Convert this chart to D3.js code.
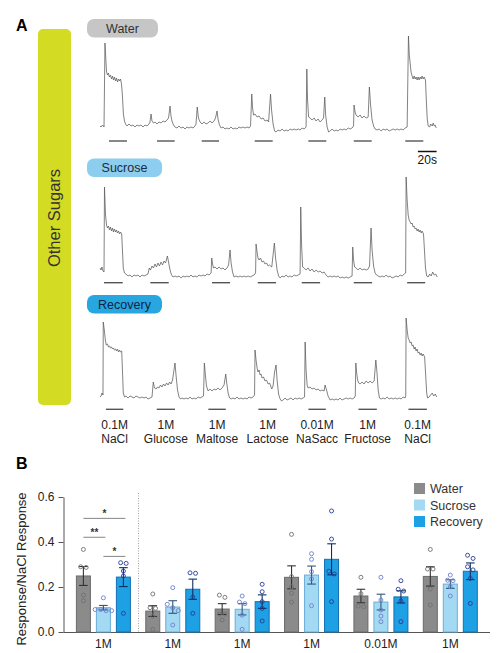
<!DOCTYPE html>
<html><head><meta charset="utf-8">
<script src="https://cdn.jsdelivr.net/npm/d3@7"></script>
<style>body{margin:0;background:#fff}svg{display:block;font-family:"Liberation Sans",Arial,Helvetica,sans-serif}</style>
</head><body><svg id="c" width="500" height="653"></svg>
<script>
// ---------- Panel A data: calcium traces, [time (s), response (a.u.)] ----------
const waterTrace = [
[0,1],[1.1,0],[2.7,2],[4.3,0],[5.3,84],[7,55],[8,52],[9,54],[10,50],[11.2,52],[12.3,48],[13.4,51],[14.4,47],[15.5,50],[16.6,46],[17.6,49],[18.7,45],[19.8,48],[20.9,46],[21.9,48],[23,43],[24,31],[25,13],[26.2,6],[27.3,3],
[28.9,1],[31,3],[33.2,1],[35.3,2],[37.4,0],[39.6,2],[41.7,1],[43.9,2],[46,0],[48.1,2],[50.3,1],[52.4,3],[53.5,5],
[54.6,13],[55.6,6],[57.2,4],[58.8,5],[61,3],[63.1,5],[65.3,4],[67.4,6],[69.5,5],[71.7,7],[73.3,9],[74.9,21],[75.9,11],[77,6],[78.6,2],[80.2,0],
[82.4,-1],[84.5,1],[86.7,-1],[88.8,0],[90.9,-2],[93,0],[95.2,-1],[97.3,0],[99.5,-1],[101.6,1],[102.7,3],
[104,20],[105.3,9],[107,5],[109.1,3],[111.3,5],[113.4,3],[115.6,4],[117.7,6],[119.8,4],[122,6],[123.5,9],[125.2,16],[126.2,8],[127.8,2],[129.5,-1],
[131.6,0],[133.7,-2],[135.8,-1],[138,-2],[140.1,0],[142.3,-2],[144.4,-1],[146.5,-2],[148.7,0],[150.8,-1],[153,0],[155.1,-1],[157.2,0],[159.4,-1],[161,1],
[162.3,33],[163.2,19],[164.2,12],[165.8,13],[168,10],[170.1,11],[172.3,8],[174.4,9],[176.5,6],[178.7,7],[180.3,5],[182.4,33],[183.5,17],[185.1,3],[186.7,-4],[188.3,-5],
[190.4,-3],[192.6,-4],[194.7,-2],[196.9,-4],[199,-3],[201.2,-4],[203.3,-2],[205.4,-3],[207.6,-2],[209.7,-3],[211.9,-2],[214,-3],[216.1,-1],[218.3,-2],[220.4,0],
[221.2,58],[222,27],[223.1,10],[224.7,9],[226.8,7],[229,9],[231.1,6],[233.3,8],[235.4,5],[237.5,7],[239.1,9],[240.4,30],[241.3,12],[242.9,0],[244.5,-5],
[246.1,-4],[248.2,-2],[250.4,-4],[252.5,-3],[254.7,-4],[256.8,-2],[258.9,-3],[261.1,-2],[263.2,-3],[265.4,-1],[267.5,-2],[269.6,-1],[271.2,1],
[271.7,22],[272.8,15],[273.9,12],[276,10],[278.2,12],[280.3,9],[282.4,11],[284.6,9],[286.8,10],[288.1,40],[289.4,22],[291,7],[292.6,1],[294.2,-2],
[296.4,-3],[298.5,-2],[300.7,-4],[302.8,-2],[304.9,-3],[307.1,-2],[309.2,-4],[311.4,-3],[313.5,-2],[315.6,-3],[317.8,-2],[319.9,-3],[322.1,-2],[324.2,-3],[326.3,-1],[328.5,0],
[329.9,91],[330.8,72],[331.7,64],[332.7,55],[333.8,51],[334.9,48],[336,51],[337,48],[338.1,50],[339.2,47],[340.2,50],[341.3,47],[342.4,50],[343.5,48],[344.5,51],[345.6,48],[346.7,50],[348.1,47],[349,27],[349.9,9],[351,1],[352.6,0],[353.7,3],[355.3,1],[356.4,4],[357.4,1],[358.5,2],[359.6,-1]
];
const sucroseTrace = [
[0,8],[1.1,6],[2.1,9],[3.2,5],[4.3,4],[4.8,89],[5.9,61],[7,51],[8,48],[9.1,50],[10.2,46],[11.2,49],[12.3,45],[13.4,48],[14.4,44],[15.5,47],[16.6,44],[17.6,46],[18.7,43],[19.8,45],[20.9,42],[21.9,44],[23.2,42],[24,26],[24.9,8],[26.2,3],
[27.8,2],[30,0],[32.1,1],[34.2,-1],[36.4,1],[38.5,0],[40.7,1],[42.8,-1],[44.9,1],[47.1,0],[49.2,1],[51.3,2],
[52.7,8],[54,6],[55.6,10],[57.2,8],[58.8,12],[60.4,9],[62,13],[63.6,10],[65.3,14],[66.9,11],[68.5,15],[70.1,13],[72.1,20],[73.3,14],[74.9,6],[76.5,1],[78.1,-1],
[80.2,0],[82.4,-1],[84.5,0],[86.7,-2],[88.8,0],[90.9,-1],[93,0],[95.2,-1],[97.3,1],[99.5,-1],[101.6,0],[103.8,-1],[105.9,1],[108.1,0],[110.2,1],[112.3,0],[114.5,2],[116.6,1],[118.8,3],
[119.5,18],[120.4,12],[121.4,8],[123,9],[125.2,7],[127.3,9],[129.5,7],[131.6,8],[133.7,6],[135.8,8],[137.5,11],[139.1,26],[140.1,14],[141.7,4],[143.4,-1],
[145.5,0],[147.7,-1],[149.8,0],[151.9,-1],[154.1,0],[156.2,-1],[158.4,0],[160.5,-1],[162.6,0],[164.8,1],[166.4,3],
[166.9,32],[168,24],[169,18],[170.1,16],[171.7,18],[173.3,14],[174.9,15],[176.5,12],[178.1,13],[179.8,10],[181.4,11],[183.7,9],[186.5,33],[187.8,18],[189.4,6],[191,0],[192.6,-2],
[194.7,0],[196.9,-1],[199,1],[201.2,-1],[203.3,0],[205.4,-1],[207.6,1],[209.7,0],[211.9,1],[214,2],
[214.7,69],[215.6,31],[216.7,9],[218.3,8],[220.4,6],[222.6,8],[224.7,5],[226.8,7],[229,4],[231.1,6],[233.3,4],[235.4,5],[237.5,3],[239.7,4],[241.8,1],[244,-1],
[246.1,0],[248.2,-1],[250.4,0],[252.5,-1],[254.7,0],[256.8,-2],[258.9,-1],[261.1,-2],[263.2,-1],[265.4,-2],[267.5,-1],[269.6,0],
[270.3,29],[271.2,16],[272.3,9],[273.9,8],[276,6],[278.2,8],[280.3,6],[282.4,7],[284.6,6],[286.8,7],[288.3,10],[289.9,48],[291,26],[292.6,10],[294.2,3],[295.8,1],
[297.5,0],[299.6,-1],[301.7,0],[303.9,-1],[306,1],[308.2,-1],[310.3,0],[312.4,-2],[314.6,-1],[316.7,0],[318.9,-1],[321,1],[323.1,0],[325.3,2],[326.9,3],
[327.4,99],[328.5,76],[329.6,61],[330.6,56],[331.7,54],[332.8,52],[333.8,53],[334.9,49],[336,50],[337,47],[338.1,48],[339.2,45],[340.2,47],[341.3,44],[342.4,46],[343.5,43],[344.5,45],[346,42],[347,26],[348.1,8],[349.4,0],[351,-1],[352.6,2],[354.2,0],[355.8,4],[357.4,1],[359,2],[360.6,-1]
];
const recoveryTrace = [
[0,1],[1.1,2],[2.1,5],[3.2,3],[3.5,76],[4.6,68],[5.7,58],[6.7,53],[8,54],[9.1,51],[10.2,52],[11.2,50],[12.3,51],[13.4,49],[14.4,50],[15.5,48],[16.6,49],[17.6,47],[18.7,49],[19.8,46],[20.9,48],[21.9,46],[23.2,47],[24,28],[24.9,5],[26.2,1],
[27.8,2],[30,0],[32.1,2],[34.2,1],[36.4,0],[38.5,2],[40.7,1],[42.8,0],[44.9,1],[47.1,0],[49.2,1],[51.3,-1],[53.5,0],[55.6,1],
[57,16],[58.3,10],[59.9,9],[61.5,11],[63.1,10],[64.7,13],[66.3,11],[67.9,14],[69.5,12],[71.2,15],[72.8,13],[74.4,16],[76,14],[77.6,18],[80.2,35],[81.3,23],[82.9,8],[84.5,1],[86.1,-1],
[87.7,0],[89.9,-1],[92,0],[94.2,-1],[96.3,1],[98.4,-1],[100.6,0],[102.7,-1],[104.9,1],[107,0],[109.1,1],[110.7,2],
[111.6,35],[112.7,23],[113.9,12],[115.6,7],[117.7,9],[119.8,7],[122,9],[124.1,8],[126.3,10],[128.4,8],[130.5,10],[132.7,13],[134.5,24],[135.4,16],[137,5],[138.6,0],
[140.2,-1],[142.3,0],[144.4,-1],[146.6,1],[148.7,-1],[150.8,0],[153,-1],[155.1,0],[157.3,-1],[159.4,1],[161.6,0],[163.7,1],[165.3,3],
[165.8,48],[166.9,38],[168,30],[169,26],[170.1,28],[171.2,23],[172.3,24],[173.3,20],[174.9,21],[176.5,17],[178.1,18],[179.8,14],[181.4,15],[183.7,9],[185.1,12],[186.7,26],[188.3,33],[189.4,18],[191,4],[192.6,-1],[194.2,-3],
[195.8,-2],[197.9,0],[200.1,-2],[202.2,-1],[204.4,0],[206.5,-2],[208.6,0],[210.8,-1],[212.9,0],[215.1,-1],[217.2,0],[218.8,1],
[219.4,56],[220.4,28],[221.5,13],[222.6,10],[224.7,11],[226.8,9],[229,10],[231.1,8],[233.3,9],[235.4,7],[237.5,8],[239.7,7],[240.7,13],[242.3,8],[243.9,2],[246.1,-2],
[248.2,-1],[250.4,-2],[252.5,-1],[254.7,-2],[256.8,0],[258.9,-2],[261.1,-1],[263.2,0],[265.4,-1],[267.5,0],[269.6,-1],[271.8,0],[273,2],
[273.6,35],[274.4,26],[275.5,18],[276.6,15],[278.2,14],[280.3,16],[282.4,14],[284.6,17],[286.8,15],[288.9,17],[291,15],[293.2,17],[295,38],[296.2,26],[297.5,8],[298.9,0],
[300.7,-1],[302.8,0],[304.9,-1],[307.1,1],[309.2,-1],[311.4,0],[313.5,-1],[315.6,0],[317.8,-1],[319.9,0],[322.1,-1],[324.2,1],[326.3,0],[327,2],
[327.4,80],[328.5,68],[329.6,60],[330.6,58],[331.7,55],[332.8,56],[333.8,52],[334.9,53],[336,49],[337,51],[338.1,47],[339.2,49],[340.2,45],[341.3,46],[342.4,43],[343.5,45],[344.5,42],[345.6,44],[347.2,41],[348.3,23],[349.4,5],[350.4,0],[352,1],[353.6,3],[355.3,5],[356.9,2],[358.5,4],[360.1,1]
];
// stimulus application windows [start, end] in seconds
const waterStim    = [[9.6,28.9],[61,79.9],[108.8,127.3],[165.5,184.7],[222.8,242],[271.4,290.6],[326.5,345.8]];
const sucroseStim  = [[4.3,24.3],[53.8,73.5],[119.8,139.1],[168.7,188.3],[215.8,235.4],[271.4,291],[328.5,347.8]];
const recoveryStim = [[6.4,24.9],[60.7,80.2],[115.9,134.5],[169.4,189.1],[222.9,241.5],[276.4,296.1],[329.9,349.6]];
const stimConc  = ["0.1M","1M","1M","1M","0.01M","1M","0.1M"];
const stimNames = ["NaCl","Glucose","Maltose","Lactose","NaSacc","Fructose","NaCl"];
const conditionNames = ["Water","Sucrose","Recovery"];
const scaleBarSeconds = 20;

// ---------- Panel B data ----------
const groupKeys   = ["Sucrose","Glucose","Maltose","Lactose","NaSacc","Fructose"];
const groupLabels = ["1M","1M","1M","1M","0.01M","1M"];
const seriesNames = ["Water","Sucrose","Recovery"];
const waterMean    = [0.249,0.093,0.102,0.243,0.160,0.247];
const sucroseMean  = [0.108,0.111,0.101,0.253,0.133,0.213];
const recoveryMean = [0.244,0.190,0.135,0.323,0.156,0.270];
const waterSEM    = [0.042,0.024,0.024,0.051,0.030,0.043];
const sucroseSEM  = [0.010,0.028,0.025,0.040,0.035,0.019];
const recoverySEM = [0.042,0.045,0.030,0.069,0.027,0.037];
const waterDots = [[0.367,0.29,0.287,0.164,0.139],[0.169,0.108,0.105,0.07,0.012],[0.164,0.154,0.08,0.08,0.053],[0.434,0.246,0.201,0.172,0.133],[0.243,0.17,0.115,0.112],[0.367,0.28,0.28,0.191,0.12]];
const sucroseDots = [[0.152,0.10,0.10,0.095,0.095],[0.197,0.123,0.108,0.095,0.031],[0.16,0.133,0.126,0.075,0.012],[0.348,0.323,0.268,0.236,0.117],[0.243,0.142,0.098,0.071,0.046],[0.253,0.23,0.228,0.201,0.16]];
const recoveryDots = [[0.308,0.305,0.271,0.249,0.083],[0.263,0.261,0.155,0.083],[0.212,0.179,0.135,0.105,0.049],[0.538,0.413,0.27,0.258,0.135],[0.228,0.19,0.182,0.138,0.046],[0.341,0.327,0.29,0.276,0.238,0.127]];
const yTicks = [0,0.2,0.4,0.6];
// significance brackets: [group, from series, to series, height, label]
const sigBrackets = [["Sucrose","Water","Recovery",0.505,"*"],["Sucrose","Water","Sucrose",0.421,"**"],["Sucrose","Sucrose","Recovery",0.336,"*"]];

// ---------- drawing ----------
const svg = d3.select("#c");
const FONT = '"Liberation Sans",Arial,Helvetica,sans-serif';
svg.append("rect").attr("width",500).attr("height",653).attr("fill","#fff");

// Panel A
svg.append("text").attr("x",16).attr("y",31).attr("font-size",16).attr("font-weight","bold").text("A");
svg.append("rect").attr("x",38).attr("y",29).attr("width",33).attr("height",376).attr("rx",5).attr("fill","#d3dc22");
svg.append("text").attr("transform","translate(60,218) rotate(-90)").attr("text-anchor","middle")
  .attr("font-size",16.5).attr("fill","#333").text("Other Sugars");

const tx = d3.scaleLinear().domain([0,360]).range([100,436.6]);
const panels = [
  {name:conditionNames[0], data:waterTrace, stim:waterStim, base:127, barY:141, pillY:19, pillW:71, fill:"#c6c6c6", txt:"#333"},
  {name:conditionNames[1], data:sucroseTrace, stim:sucroseStim, base:276, barY:282.7, pillY:158.5, pillW:75, fill:"#8dcdee", txt:"#1e2a40"},
  {name:conditionNames[2], data:recoveryTrace, stim:recoveryStim, base:398, barY:409.3, pillY:295, pillW:75, fill:"#27a6e0", txt:"#13243f"}
];
panels.forEach(p => {
  const ty = d3.scaleLinear().domain([0,100]).range([p.base, p.base-100]);
  svg.append("rect").attr("x",87).attr("y",p.pillY).attr("width",p.pillW).attr("height",18.5).attr("rx",7).attr("fill",p.fill);
  svg.append("text").attr("x",87+p.pillW/2).attr("y",p.pillY+13.5).attr("text-anchor","middle").attr("font-size",12.5).attr("fill",p.txt).text(p.name);
  svg.append("path").datum(p.data)
    .attr("d", d3.line().x(d=>tx(d[0])).y(d=>ty(d[1])))
    .attr("fill","none").attr("stroke","#5a5a5a").attr("stroke-width",0.75).attr("stroke-linejoin","round");
  svg.selectAll(null).data(p.stim).enter().append("line")
    .attr("x1",d=>tx(d[0])).attr("x2",d=>tx(d[1])).attr("y1",p.barY).attr("y2",p.barY)
    .attr("stroke","#555").attr("stroke-width",1.4);
});
// 20 s scale bar
svg.append("line").attr("x1",tx(340)).attr("x2",tx(340+scaleBarSeconds)).attr("y1",151.5).attr("y2",151.5).attr("stroke","#111").attr("stroke-width",1.5);
svg.append("text").attr("x",tx(340+scaleBarSeconds/2)).attr("y",163.5).attr("text-anchor","middle").attr("font-size",12).attr("fill","#111").text(scaleBarSeconds+"s");
// stimulus labels
recoveryStim.forEach((s,i) => {
  const cx = tx((s[0]+s[1])/2);
  svg.append("text").attr("x",cx).attr("y",428.5).attr("text-anchor","middle").attr("font-size",12).attr("fill","#222").text(stimConc[i]);
  svg.append("text").attr("x",cx).attr("y",443).attr("text-anchor","middle").attr("font-size",12).attr("fill","#222").text(stimNames[i]);
});

// Panel B
svg.append("text").attr("x",16).attr("y",469).attr("font-size",16).attr("font-weight","bold").text("B");
const y = d3.scaleLinear().domain([0,0.6]).range([632,497]);
const x0 = d3.scaleBand().domain(groupKeys).range([68.7,485]);
const x1 = d3.scaleBand().domain(seriesNames).range([0,55]).paddingInner(0.25);
const colors = {Water:"#8b8b8b", Sucrose:"#a4d9f3", Recovery:"#1ea0e4"};
const strokes = {Water:"#6b6b6b", Sucrose:"#6aaed6", Recovery:"#1470b2"};
const errCol = {Water:"#333", Sucrose:"#2f5878", Recovery:"#0e2f62"};
const dotCol = {Water:"#707070", Sucrose:"#6d7fcc", Recovery:"#2a3b96"};
const means = {Water:waterMean, Sucrose:sucroseMean, Recovery:recoveryMean};
const sems = {Water:waterSEM, Sucrose:sucroseSEM, Recovery:recoverySEM};
const dots = {Water:waterDots, Sucrose:sucroseDots, Recovery:recoveryDots};
const barX = (g,s) => x0(g) + x0.bandwidth()/2 - 27.5 + x1(s);
const barC = (g,s) => barX(g,s) + x1.bandwidth()/2;

// y axis
const yAxis = svg.append("g").attr("transform","translate(63.5,0)")
  .call(d3.axisLeft(y).tickValues(yTicks).tickFormat(d3.format(".1f")).tickSize(5).tickSizeOuter(0));
yAxis.selectAll("text").attr("font-size",12).attr("font-family",FONT).attr("fill","#222").attr("dx",-1);
yAxis.selectAll("line,path").attr("stroke","#555");
svg.append("text").attr("transform","translate(26,569) rotate(-90)").attr("text-anchor","middle").attr("font-size",13).attr("fill","#222").text("Response/NaCl Response");

// x axis
svg.append("line").attr("x1",63.5).attr("x2",490).attr("y1",632.5).attr("y2",632.5).attr("stroke","#555");
const xAxis = svg.append("g").attr("transform","translate(0,632.5)")
  .call(d3.axisBottom(x0).tickSize(0).tickFormat((d,i)=>groupLabels[i]));
xAxis.select(".domain").remove();
xAxis.selectAll("text").attr("font-size",12).attr("font-family",FONT).attr("fill","#222").attr("dy","1.05em");

// separator
svg.append("line").attr("x1",138.5).attr("x2",138.5).attr("y1",493).attr("y2",632).attr("stroke","#888").attr("stroke-width",0.8).attr("stroke-dasharray","1,1.5");

// bars
groupKeys.forEach((g,gi) => {
  seriesNames.forEach(s => {
    const m = means[s][gi];
    svg.append("rect").attr("x",barX(g,s)+0.5).attr("y",y(m)).attr("width",x1.bandwidth()-1).attr("height",y(0)-y(m))
      .attr("fill",colors[s]).attr("stroke",strokes[s]).attr("stroke-width",1);
  });
});
// error bars + dots
groupKeys.forEach((g,gi) => {
  seriesNames.forEach(s => {
    const m = means[s][gi], e = sems[s][gi], cx = barC(g,s);
    const eg = svg.append("g").attr("stroke",errCol[s]).attr("stroke-width",1.1);
    eg.append("line").attr("x1",cx).attr("x2",cx).attr("y1",y(m-e)).attr("y2",y(m+e));
    eg.append("line").attr("x1",cx-4.3).attr("x2",cx+4.3).attr("y1",y(m+e)).attr("y2",y(m+e));
    eg.append("line").attr("x1",cx-4.3).attr("x2",cx+4.3).attr("y1",y(m-e)).attr("y2",y(m-e));
    // deterministic spreading of near-equal values
    const vals = dots[s][gi].slice().sort((a,b)=>b-a);
    const clusters = [];
    vals.forEach(v => {
      const c = clusters[clusters.length-1];
      if (c && Math.abs(c[c.length-1]-v) < 0.016) c.push(v); else clusters.push([v]);
    });
    clusters.forEach(c => c.forEach((v,i) => {
      svg.append("circle").attr("cx",cx + (i-(c.length-1)/2)*5.5).attr("cy",y(v)).attr("r",2)
        .attr("fill","none").attr("stroke",dotCol[s]).attr("stroke-width",0.9);
    }));
  });
});
// significance
sigBrackets.forEach(b => {
  const xa = barC(b[0],b[1]), xb = barC(b[0],b[2]);
  svg.append("line").attr("x1",xa).attr("x2",xb+2).attr("y1",y(b[3])).attr("y2",y(b[3])).attr("stroke","#666").attr("stroke-width",0.8);
  svg.append("text").attr("x",(xa+xb)/2+1).attr("y",y(b[3])-1.5).attr("text-anchor","middle").attr("font-size",10).attr("font-weight","bold").attr("fill","#333").text(b[4]);
});
// legend
seriesNames.forEach((s,i) => {
  svg.append("rect").attr("x",414).attr("y",483+i*16.5).attr("width",11).attr("height",11).attr("fill",colors[s]);
  svg.append("text").attr("x",430).attr("y",493+i*16.5).attr("font-size",12.5).attr("fill","#333").text(s);
});
</script></body></html>
